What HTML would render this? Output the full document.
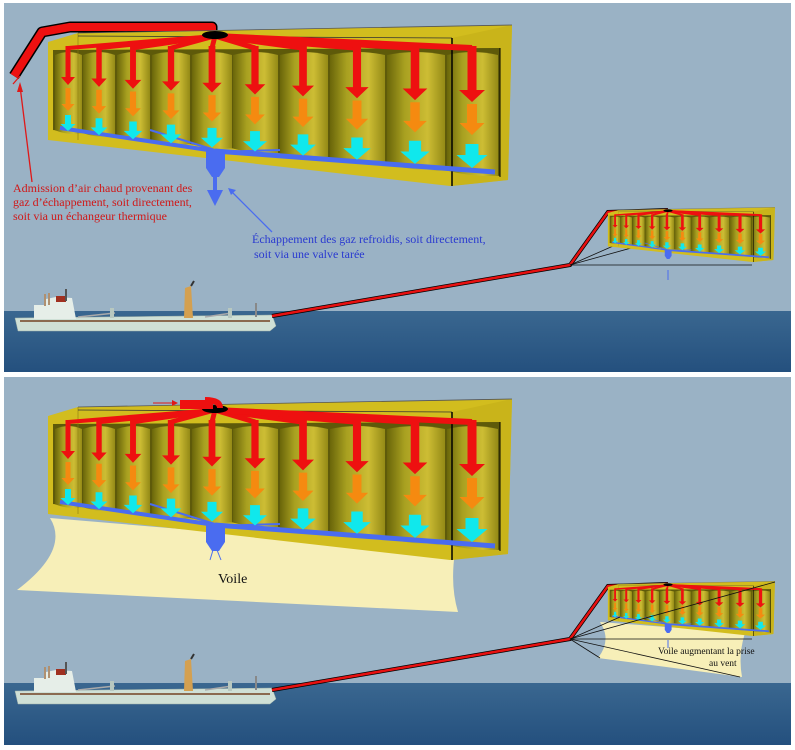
<!DOCTYPE html>
<html><head><meta charset="utf-8">
<style>
html,body{margin:0;padding:0;background:#fff;}
svg{display:block;font-family:"Liberation Serif",serif;}
</style></head>
<body>
<svg id="s" width="795" height="750" viewBox="0 0 795 750" xmlns="http://www.w3.org/2000/svg">
<defs>
<linearGradient id="cyl" x1="0" x2="1" y1="0" y2="0">
<stop offset="0" stop-color="#6a660a"/><stop offset="0.3" stop-color="#a8a020"/><stop offset="0.7" stop-color="#cdbd34"/><stop offset="1" stop-color="#948a16"/>
</linearGradient>
<linearGradient id="sea" x1="0" x2="0" y1="0" y2="1">
<stop offset="0" stop-color="#3a6790"/><stop offset="1" stop-color="#24507e"/>
</linearGradient>
<g id="box">
<polygon points="48,42 78,33 512,25 508,180 450,186 48,140" fill="#d2bd1e"/>
<polygon points="452,38 512,25 508,180 452,186" fill="#c9b41a"/>
<polygon points="53,50 500,48 500,176 53,130" fill="#5e5a0a"/>
<g id="cols"></g>
<line x1="78" y1="33" x2="512" y2="25" stroke="#555" stroke-width="0.8"/>
<line x1="78" y1="33" x2="78" y2="140" stroke="#8a7a10" stroke-width="0.6"/>
<line x1="78" y1="36" x2="452" y2="38" stroke="#333" stroke-width="0.8"/>
<line x1="452" y1="38" x2="452" y2="186" stroke="#000" stroke-width="1.5"/>
<line x1="500" y1="48" x2="500" y2="177" stroke="#000" stroke-width="1"/>
<path d="M60,128 L215,151" stroke="#4a6cf0" stroke-width="4" fill="none"/>
<path d="M215,151 L495,172" stroke="#4a6cf0" stroke-width="5" fill="none"/>
<path d="M150,130 L215,150 M280,150 L215,152" stroke="#4a6cf0" stroke-width="2" fill="none"/>
<polygon points="206,150 225,150 225,168 219,177 212,177 206,168" fill="#4a6cf0"/>
<g id="arrows"></g>
<ellipse cx="215" cy="35" rx="13" ry="4" fill="#000"/>
</g>
</defs>

<rect x="4" y="3" width="787" height="308" fill="#9ab2c5"/>
<rect x="4" y="311" width="787" height="61" fill="url(#sea)"/>
<rect x="4" y="377" width="787" height="306" fill="#9ab2c5"/>
<rect x="4" y="683" width="787" height="62" fill="url(#sea)"/>

<g id="ship">
<polygon points="15,318 272,315 276,326 270,331 18,331" fill="#cfe0d6" stroke="#9fb0a8" stroke-width="0.5"/>
<rect x="20" y="320" width="250" height="2" fill="#8a6a50"/>
<polygon points="34,319 34,305 45,305 46,299 56,297 72,298 76,319" fill="#e6eee8"/>
<rect x="56" y="296" width="10" height="6" fill="#a03020"/>
<rect x="44" y="294" width="2" height="12" fill="#b09070"/>
<rect x="48" y="293" width="2" height="12" fill="#b09070"/>
<rect x="65" y="289" width="2" height="12" fill="#555"/>
<polygon points="185,288 191,286 193,318 184,318" fill="#d4a050"/>
<line x1="191" y1="286" x2="194" y2="281" stroke="#333" stroke-width="2"/>
<line x1="78" y1="317" x2="115" y2="313" stroke="#aaa" stroke-width="1.5"/>
<line x1="205" y1="317" x2="232" y2="313" stroke="#aaa" stroke-width="1.5"/>
<rect x="110" y="308" width="4" height="10" fill="#b8c8c0"/>
<rect x="228" y="308" width="4" height="10" fill="#b8c8c0"/>
<rect x="255" y="303" width="2" height="14" fill="#888"/>
</g>
<use href="#ship" transform="translate(0,373)"/>

<polyline points="272,316 570,265 608,212 668,210" fill="none" stroke="#000" stroke-width="4"/>
<polyline points="272,316 570,265 608,212 668,210" fill="none" stroke="#e81010" stroke-width="2.5"/>
<g stroke="#111" stroke-width="0.8">
<line x1="570" y1="265" x2="620" y2="243"/>
<line x1="570" y1="265" x2="775" y2="208"/>
<line x1="570" y1="265" x2="752" y2="265"/>
</g>
<use href="#box" transform="translate(668,210) scale(0.36,0.34) translate(-215,-33)"/>
<line x1="668" y1="270" x2="668" y2="280" stroke="#4a6cf0" stroke-width="1"/>

<polyline points="14,76 42,32 70,27 212,27 212,34" fill="none" stroke="#000" stroke-width="11" stroke-linejoin="round"/>
<polyline points="14,76 42,32 70,27 212,27 212,34" fill="none" stroke="#ee1010" stroke-width="8" stroke-linejoin="round"/>
<use href="#box"/>
<rect x="213" y="176" width="4" height="16" fill="#4a6cf0"/>
<polygon points="207,190 223,190 215,206" fill="#4a6cf0"/>
<line x1="32" y1="182" x2="20" y2="86" stroke="#e01818" stroke-width="1.3"/>
<polygon points="20,82 17,92 23,92" fill="#e01818"/>
<line x1="13" y1="84" x2="20" y2="76" stroke="#e01818" stroke-width="1.3"/>
<line x1="272" y1="232" x2="230" y2="190" stroke="#4a6cf0" stroke-width="1.3"/>
<polygon points="228,188 236,190 231,195" fill="#4a6cf0"/>
<g fill="#d01818" font-size="12">
<text x="13" y="192">Admission d’air chaud provenant des</text>
<text x="13" y="206">gaz d’échappement, soit directement,</text>
<text x="13" y="220">soit via un échangeur thermique</text>
</g>
<g fill="#2a3ad0" font-size="12">
<text x="252" y="243">Échappement des gaz refroidis, soit directement,</text>
<text x="254" y="258">soit via une valve tarée</text>
</g>

<path d="M50,518 Q70,550 17,590 L458,612 Q450,585 455,552 Z" fill="#f7efb8"/>
<use href="#box" transform="translate(0,374)"/>
<rect x="180" y="400" width="33" height="9" fill="#ee1010"/>
<path d="M205,400 Q220,400 220,408" stroke="#ee1010" stroke-width="6" fill="none"/>
<line x1="153" y1="403" x2="174" y2="403" stroke="#e01818" stroke-width="1"/>
<polygon points="178,403 172,400 172,406" fill="#e01818"/>
<line x1="213" y1="550" x2="210" y2="560" stroke="#4a6cf0" stroke-width="1"/>
<line x1="217" y1="550" x2="221" y2="560" stroke="#4a6cf0" stroke-width="1"/>
<text x="218" y="583" font-size="14" fill="#111">Voile</text>

<path d="M600,622 Q612,640 598,658 L742,677 Q738,655 745,633 Z" fill="#f7efb8"/>
<polyline points="272,690 570,639 608,586 668,584" fill="none" stroke="#000" stroke-width="4"/>
<polyline points="272,690 570,639 608,586 668,584" fill="none" stroke="#e81010" stroke-width="2.5"/>
<use href="#box" transform="translate(668,584) scale(0.36,0.34) translate(-215,-33)"/>
<g stroke="#111" stroke-width="0.8">
<line x1="570" y1="639" x2="620" y2="617"/>
<line x1="570" y1="639" x2="775" y2="582"/>
<line x1="570" y1="639" x2="752" y2="639"/>
<line x1="570" y1="639" x2="600" y2="658"/>
<line x1="570" y1="639" x2="740" y2="677"/>
</g>
<line x1="668" y1="640" x2="668" y2="648" stroke="#4a6cf0" stroke-width="1"/>
<g fill="#111" font-size="9.5">
<text x="658" y="654">Voile augmentant la prise</text>
<text x="709" y="666">au vent</text>
</g>

<script>
(function(){
var NS="http://www.w3.org/2000/svg";
var cols=document.getElementById("cols"),ar=document.getElementById("arrows");
var bounds=[[55,82],[83,115],[117,150],[152,190],[192,232],[233,278],[280,328],[330,385],[387,445],[447,498]];
bounds.forEach(function(b){
 var yb=function(x){return 130+(x-53)*46/447;};
 var p=document.createElementNS(NS,"path");
 var top=52;
 p.setAttribute("d","M"+b[0]+","+(top+3)+" Q"+((b[0]+b[1])/2)+","+(top-3)+" "+b[1]+","+(top+3)+" L"+b[1]+","+yb(b[1])+" Q"+((b[0]+b[1])/2)+","+(yb((b[0]+b[1])/2)+4)+" "+b[0]+","+yb(b[0])+" Z");
 p.setAttribute("fill","url(#cyl)");
 cols.appendChild(p);
});
var cx=[68,99,133,171,212,255,303,357,415,472];
function arrow(x,y0,y1,w,hw,hl,c){
 var p=document.createElementNS(NS,"path");
 p.setAttribute("d","M"+(x-w/2)+","+y0+"L"+(x+w/2)+","+y0+"L"+(x+w/2)+","+(y1-hl)+"L"+(x+hw/2)+","+(y1-hl)+"L"+x+","+y1+"L"+(x-hw/2)+","+(y1-hl)+"L"+(x-w/2)+","+(y1-hl)+"Z");
 p.setAttribute("fill",c);ar.appendChild(p);
}
cx.forEach(function(x,i){
 var t=i/9;
 var l=document.createElementNS(NS,"line");
 l.setAttribute("x1",215);l.setAttribute("y1",36);l.setAttribute("x2",x);l.setAttribute("y2",48);
 l.setAttribute("stroke","#ee1010");l.setAttribute("stroke-width",4+2*t);ar.appendChild(l);
 arrow(x,46,85+17*t,5+4*t,14+12*t,8+4*t,"#ee1010");
 arrow(x,88+16*t,111+24*t,5+5*t,13+12*t,7+5*t,"#f58a10");
 arrow(x,115+29*t,131+37*t,6+7*t,15+16*t,7+6*t,"#10e8ec");
});
})();
</script>
</svg>
</body></html>
